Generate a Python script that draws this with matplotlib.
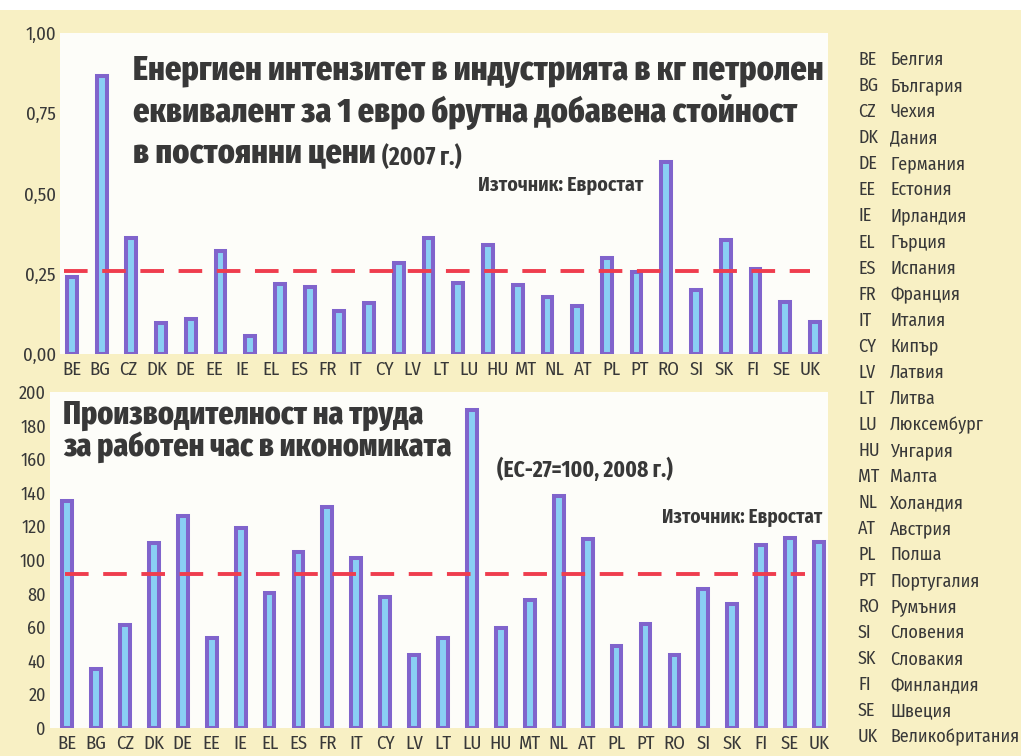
import numpy as np
import matplotlib
matplotlib.use('Agg')
import matplotlib.pyplot as plt
from matplotlib.patches import Rectangle

# Country codes and Bulgarian names (legend on the right)
codes = ['BE', 'BG', 'CZ', 'DK', 'DE', 'EE', 'IE', 'EL', 'ES', 'FR', 'IT', 'CY', 'LV', 'LT',
         'LU', 'HU', 'MT', 'NL', 'AT', 'PL', 'PT', 'RO', 'SI', 'SK', 'FI', 'SE', 'UK']
names = ['Белгия', 'България', 'Чехия', 'Дания', 'Германия', 'Естония', 'Ирландия', 'Гърция',
         'Испания', 'Франция', 'Италия', 'Кипър', 'Латвия', 'Литва', 'Люксембург', 'Унгария',
         'Малта', 'Холандия', 'Австрия', 'Полша', 'Португалия', 'Румъния', 'Словения',
         'Словакия', 'Финландия', 'Швеция', 'Великобритания']

# Energy intensity of industry, kg oil eq. per euro GVA (2007) - 26 bars as printed
energy = [0.24, 0.866, 0.36, 0.097, 0.109, 0.32, 0.056, 0.219, 0.209, 0.134, 0.16, 0.284,
          0.36, 0.22, 0.34, 0.216, 0.178, 0.15, 0.30, 0.256, 0.597, 0.20, 0.356, 0.265,
          0.163, 0.10]
energy_avg = 0.26
energy_ticks = [0.0, 0.25, 0.5, 0.75, 1.0]
energy_ticklabels = ['0,00', '0,25', '0,50', '0,75', '1,00']

# Labour productivity per hour worked (EU-27 = 100, 2008)
productivity = [135.3, 35.3, 61.3, 110.3, 126.2, 53.4, 118.8, 80.2, 104.6, 131.8, 101.0,
                78.2, 43.5, 53.4, 189.3, 59.3, 76.2, 138.0, 112.5, 48.8, 61.7, 43.3, 82.5,
                73.8, 108.9, 113.1, 110.5]
productivity_avg = 91.5
productivity_ticks = list(range(0, 201, 20))

# Styles
W, H = 1021, 756
CREAM = '#f8f0c4'
BAR_FACE = '#8acff4'
BAR_EDGE = '#8064cc'
RED = '#ef3d4e'
TXT = '#383838'
BODY = ['Fira Sans Condensed', 'DejaVu Sans']
HEAD = ['Fira Sans Extra Condensed', 'DejaVu Sans']

plt.rcParams['font.family'] = BODY

fig = plt.figure(figsize=(W / 100, H / 100), dpi=100, facecolor=CREAM)
fig.patches.append(Rectangle((0, 1 - 10 / H), 1, 10 / H, transform=fig.transFigure,
                             facecolor='white', edgecolor='none', zorder=0))
renderer = fig.canvas.get_renderer()


def px_axes(x0, y0, x1, y1):
    # axes from pixel box (top-left origin)
    return fig.add_axes([x0 / W, 1 - y1 / H, (x1 - x0) / W, (y1 - y0) / H])


def style(ax):
    ax.set_facecolor('#fdfdf9')
    for s in ax.spines.values():
        s.set_visible(False)
    ax.tick_params(length=0, colors=TXT, labelsize=13.5)


def head(x0, y, s, size, **kw):
    kw.setdefault('family', HEAD)
    kw.setdefault('fontweight', 'heavy')
    return fig.text(x0 / W, 1 - y / H, s, fontsize=size, color=TXT, va='center', **kw)


def fit_size(x0, x1, y, s, size=26, **kw):
    # font size that makes the text run from x0 to x1 pixels
    t = head(x0, y, s, size, **kw)
    w = t.get_window_extent(renderer).width
    t.set_fontsize(size * (x1 - x0) / w)
    return t, size * (x1 - x0) / w


def right_of(t, gap, y, s, size, **kw):
    x = t.get_window_extent(renderer).x1 + gap
    return head(x, y, s, size, **kw)


LW = 2.8
ON, OFF = 17.0, 10.5  # dash lengths in points


def avg_line(ax, y, x0, x1):
    ax.hlines(y, x0, x1, colors=RED, linewidth=LW, linestyles=[(0, (ON / LW, OFF / LW))],
              zorder=3)


# ---- top panel: energy intensity ----
ax1 = px_axes(60, 33, 828, 354)
style(ax1)
x1 = np.arange(len(energy))
ax1.bar(x1, energy, width=0.33, color=BAR_FACE, edgecolor=BAR_EDGE, linewidth=2.9, zorder=2)
avg_line(ax1, energy_avg, -0.25, len(energy) - 1.15)
ax1.set_xlim(-0.40, len(energy) - 1 + 0.44)
ax1.set_ylim(0, 1.0)
ax1.set_yticks(energy_ticks)
ax1.set_yticklabels(energy_ticklabels)
ax1.tick_params(axis='y', pad=3)
# 27 country labels are spread under the 26 printed bars
ax1.set_xticks(np.linspace(0, len(energy) - 1.17, len(codes)))
ax1.set_xticklabels(codes)
ax1.tick_params(axis='x', pad=5)

t1, s1 = fit_size(133, 822, 71, 'Енергиен интензитет в индустрията в кг петролен')
head(133, 112, 'еквивалент за 1 евро брутна добавена стойност', s1)
t3 = head(133, 154, 'в постоянни цени', s1)
right_of(t3, 6, 157, '(2007 г.)', 18, fontweight='bold')
fit_size(478, 643, 185, 'Източник: Евростат', size=12.5, family=BODY, fontweight='bold')

# ---- bottom panel: labour productivity ----
ax2 = px_axes(50, 392, 828, 728)
style(ax2)
x2 = np.arange(len(productivity))
ax2.bar(x2, productivity, width=0.34, color=BAR_FACE, edgecolor=BAR_EDGE, linewidth=2.9,
        zorder=2)
avg_line(ax2, productivity_avg, -0.07, len(productivity) - 1.5)
ax2.set_xlim(-0.59, len(productivity) - 1 + 0.31)
ax2.set_ylim(0, 200)
ax2.set_yticks(productivity_ticks)
ax2.tick_params(axis='y', pad=3, labelsize=13)
ax2.set_xticks(x2)
ax2.set_xticklabels(codes)
ax2.tick_params(axis='x', pad=5)

b2, s2 = fit_size(63, 452, 447, 'за работен час в икономиката')
head(63, 415, 'Производителност на труда', s2)
fit_size(497, 673, 470, '(EC-27=100, 2008 г.)', size=16, fontweight='bold')
fit_size(662, 822, 517, 'Източник: Евростат', size=12.5, family=BODY, fontweight='bold')

# ---- legend list on the right ----
for i, (c, n) in enumerate(zip(codes, names)):
    y = 60 + i * 26.05
    fig.text(858 / W, 1 - y / H, c, fontsize=13, color=TXT, va='center')
    fig.text(890 / W, 1 - y / H, n, fontsize=13, color=TXT, va='center')

fig.savefig('out.png', dpi=100, facecolor=CREAM)
